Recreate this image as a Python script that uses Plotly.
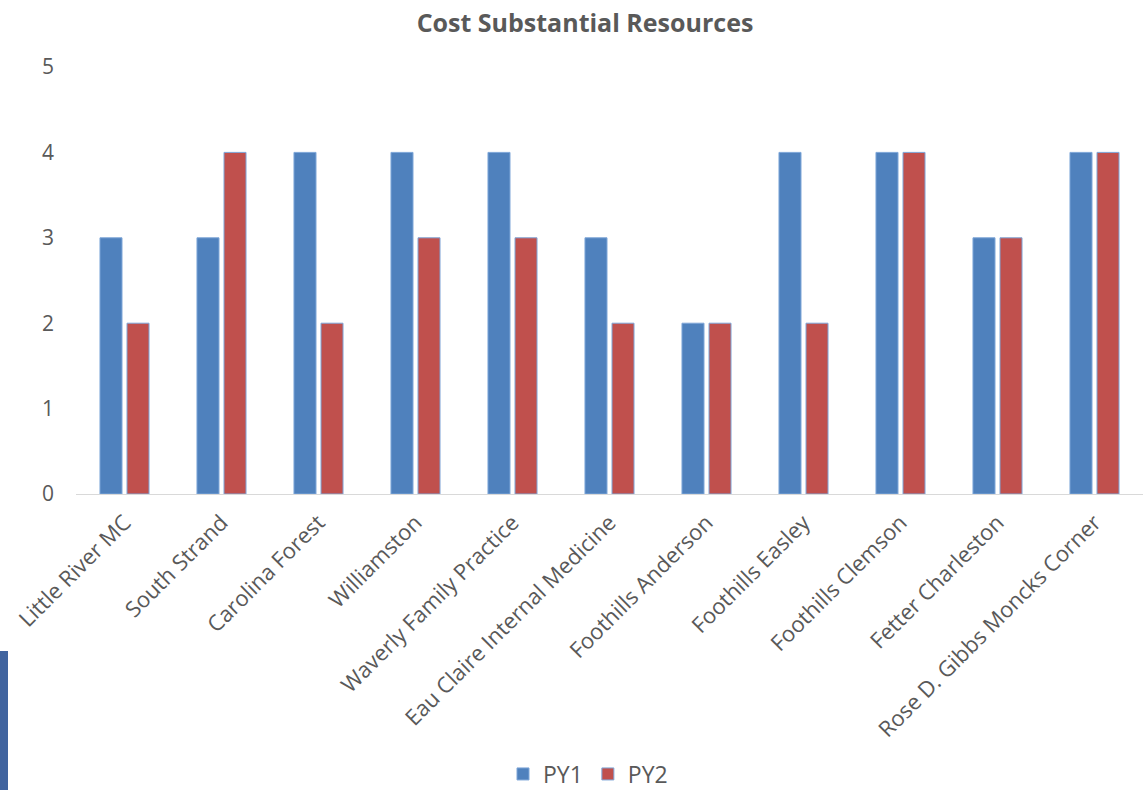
import plotly.graph_objects as go

categories = ["Little River MC", "South Strand", "Carolina Forest", "Williamston",
              "Waverly Family Practice", "Eau Claire Internal Medicine",
              "Foothills Anderson", "Foothills Easley", "Foothills Clemson",
              "Fetter Charleston", "Rose D. Gibbs Moncks Corner"]
py1 = [3, 3, 4, 4, 4, 3, 2, 4, 4, 3, 4]
py2 = [2, 4, 2, 3, 3, 2, 2, 2, 4, 3, 4]
y_ticks = [0, 1, 2, 3, 4, 5]

GREY = "#595959"
FONT = "Open Sans"

fig = go.Figure()
fig.add_trace(go.Bar(x=categories, y=py1, name="PY1",
                     marker=dict(color="#4F81BD", line=dict(color="#7EA6D8", width=1))))
fig.add_trace(go.Bar(x=categories, y=py2, name="PY2",
                     marker=dict(color="#C0504D", line=dict(color="#7EA6D8", width=1))))

L, R, T, B = 76, 0, 67, 296
W, H = 1143, 790
pw = W - L - R
ph = H - T - B

fig.update_layout(
    width=W, height=H,
    margin=dict(l=L, r=R, t=T, b=B, autoexpand=False),
    paper_bgcolor="white", plot_bgcolor="white",
    barmode="group", bargap=0.443, bargroupgap=0.185,
    font=dict(family=FONT, color=GREY, size=21),
    title=dict(text="<b>Cost Substantial Resources</b>", x=585 / W, xanchor="center",
               y=1 - 23 / H, yanchor="middle",
               font=dict(family=FONT, size=25, color=GREY)),
    legend=dict(orientation="h", x=(588 - L) / pw, xanchor="center",
                y=(T + ph - 774) / ph, yanchor="middle",
                font=dict(size=23, color=GREY), itemwidth=30),
    xaxis=dict(showline=True, linecolor="#D9D9D9", linewidth=1, showgrid=False,
               ticks="", tickangle=-45, ticklabelstandoff=6,
               tickfont=dict(size=22, color=GREY)),
    yaxis=dict(range=[0, 5], tickvals=y_ticks, showgrid=False, showline=False,
               zeroline=False, ticks="", ticklabelstandoff=21,
               tickfont=dict(size=21, color=GREY)),
    shapes=[dict(type="rect", xref="paper", yref="paper",
                 x0=-L / pw, x1=(8 - L) / pw,
                 y0=(T + ph - 651) / ph, y1=(T + ph - 790) / ph,
                 fillcolor="#41649F", line=dict(width=0), layer="above")],
)

fig.write_html("out.html", config={"displayModeBar": False},
               post_script="document.body.style.margin='0';document.body.style.overflow='hidden';")
